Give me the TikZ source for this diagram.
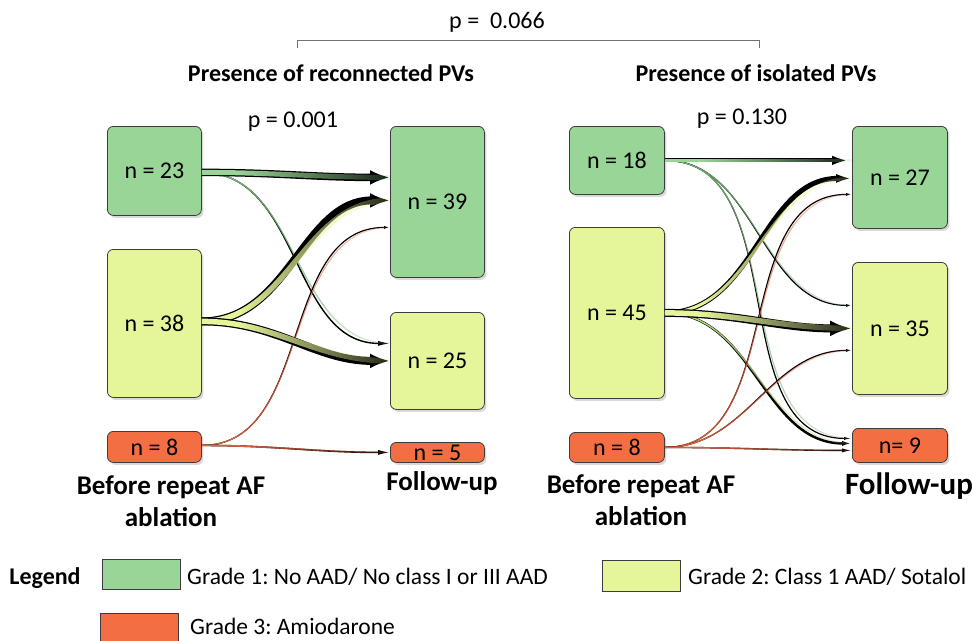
\documentclass[tikz,border=0pt]{standalone}
\usepackage{fontspec}
\setmainfont{Carlito}
\frenchspacing
\usetikzlibrary{arrows.meta,shadows,fadings}
\definecolor{gOne}{RGB}{152,213,150}
\definecolor{gTwo}{RGB}{229,245,153}
\definecolor{gThree}{RGB}{243,110,67}
\definecolor{boxline}{RGB}{60,60,60}
\definecolor{lineGreen}{RGB}{120,178,120}
\definecolor{lineYellow}{RGB}{222,240,130}
\definecolor{lineRed}{RGB}{222,95,60}
\pgfdeclarehorizontalshading{flowshade}{100bp}{color(0bp)=(white); color(35bp)=(white); color(82bp)=(black); color(100bp)=(black)}
\pgfdeclarefading{flowfade}{\pgfuseshading{flowshade}}
\newcommand{\nfont}{\fontsize{24}{28}\selectfont}
\newcommand{\legfont}{\fontsize{23.5}{28}\selectfont}
\newcommand{\bfontbig}{\fontsize{27}{31}\selectfont\bfseries}
\newcommand{\myflow}[7]{%
  \draw[black, line width=#4, -{Latex[length=#6,width=#7]}] (#1) to[out=0,in=180] (#2);
  \draw[#3, line width=#5, path fading=flowfade] (#1) to[out=0,in=180] (#2);
}
\tikzset{
  box/.style={rectangle, rounded corners=6pt, draw=boxline, line width=0.8pt,
    drop shadow={shadow xshift=2pt, shadow yshift=-2.5pt, opacity=0.3},
    inner sep=0pt, anchor=north west, font=\nfont},
  gbox/.style={box, fill=gOne},
  ybox/.style={box, fill=gTwo},
  obox/.style={box, fill=gThree},
  txt/.style={font=\nfont, inner sep=0pt},
  legtxt/.style={font=\legfont, inner sep=0pt, anchor=west},
  ttl/.style={font=\nfont\bfseries, inner sep=0pt},
  lab/.style={font=\bfontbig, inner sep=0pt, align=center},
  legbox/.style={rectangle, draw=boxline, line width=0.8pt, anchor=north west, inner sep=0pt},
}
\begin{document}
\begin{tikzpicture}[x=1pt,y=-1pt]
\useasboundingbox (0,0) rectangle (973,640);
% left panel nodes
\node[gbox, minimum width=94pt, minimum height=89pt] (a1) at (107,126) {n = 23};
\node[ybox, minimum width=94pt, minimum height=148pt] (a2) at (107,249) {n = 38};
\node[obox, minimum width=94pt, minimum height=31pt] (a3) at (107,431) {n = 8};
\node[gbox, minimum width=94pt, minimum height=151pt] (b1) at (390,126) {n = 39};
\node[ybox, minimum width=94pt, minimum height=97pt] (b2) at (390,312) {n = 25};
\node[obox, minimum width=94pt, minimum height=20pt] (b3) at (390,442) {n = 5};
% right panel nodes
\node[gbox, minimum width=95pt, minimum height=68pt] (c1) at (569,126) {n = 18};
\node[ybox, minimum width=95pt, minimum height=171pt] (c2) at (569,227) {n = 45};
\node[obox, minimum width=95pt, minimum height=30pt] (c3) at (569,432) {n = 8};
\node[gbox, minimum width=95pt, minimum height=102pt] (d1) at (852,126) {n = 27};
\node[ybox, minimum width=95pt, minimum height=132pt] (d2) at (852,262) {n = 35};
\node[obox, minimum width=95pt, minimum height=34pt] (d3) at (852,428) {n= 9};
% left flows
\myflow{[yshift=-1.5pt]a1.east}{[yshift=17.5pt]b2.west}{lineGreen}{1.4pt}{1.4pt}{12pt}{5pt}
\myflow{[yshift=1.5pt]a3.east}{[yshift=-25.5pt]b1.west}{lineRed}{1.2pt}{1.2pt}{6pt}{3pt}
\myflow{[yshift=1.5pt]a3.east}{b3.west}{lineRed}{1.6pt}{1.6pt}{12pt}{5pt}
\myflow{[yshift=-1.5pt]a1.east}{[yshift=24.5pt]b1.west}{gOne}{7.5pt}{5pt}{20pt}{15pt}
\myflow{[yshift=2pt]a2.east}{[yshift=1.5pt]b1.west}{gTwo}{8pt}{5.5pt}{20pt}{15pt}
\myflow{[yshift=2pt]a2.east}{b2.west}{gTwo}{8pt}{5.5pt}{20pt}{15pt}
% right flows
\myflow{c1.east}{[yshift=23pt]d2.west}{lineGreen}{1.2pt}{1.2pt}{6pt}{3pt}
\myflow{c1.east}{[yshift=7pt]d3.west}{lineGreen}{1.2pt}{1.2pt}{8pt}{3pt}
\myflow{c2.east}{[yshift=2pt]d3.west}{lineYellow!60!lineGreen}{2.5pt}{1.5pt}{10pt}{5pt}
\myflow{c3.east}{[yshift=-17pt]d1.west}{lineRed}{1.2pt}{1.2pt}{6pt}{3pt}
\myflow{c3.east}{[yshift=-22pt]d2.west}{lineRed}{1.2pt}{1.2pt}{6pt}{3pt}
\myflow{c3.east}{[yshift=-5pt]d3.west}{lineRed}{1.4pt}{1.4pt}{10pt}{4pt}
\myflow{c1.east}{[yshift=17pt]d1.west}{gOne}{4pt}{2.5pt}{20pt}{9pt}
\myflow{c2.east}{[yshift=-1pt]d1.west}{gTwo}{5pt}{3pt}{16pt}{9pt}
\myflow{c2.east}{d2.west}{gTwo}{8pt}{5.5pt}{22pt}{16pt}
% texts
\node[txt] (p0) at (497,22) {p =\ \ 0.066};
\coordinate (bkL) at (297,48);
\coordinate (bkR) at (759,48);
\draw[black!55, line width=1pt] (bkL) -- ++(0,-8) -| (bkR);
\node[ttl] (t1) at (331,73) {Presence of reconnected PVs};
\node[ttl] (t2) at (756,73) {Presence of isolated PVs};
\node[txt] (p1) at (293,122) {p = 0.001};
\node[txt] (p2) at (742,119) {p = 0.130};
\node[lab] (l1) at (171,501) {Before repeat AF\\[1pt]ablation};
\node[lab] (l2) at (442,483) {Follow-up};
\node[lab] (l3) at (641,500) {Before repeat AF\\[1pt]ablation};
\node[lab, font=\fontsize{31}{35}\selectfont\bfseries] (l4) at (909,486) {Follow-up};
% legend
\node[ttl] (lg) at (45,578) {Legend};
\node[legbox, fill=gOne, minimum width=78pt, minimum height=30pt] (k1) at (102,559) {};
\node[legtxt] (k1t) at (187,577) {Grade 1: No AAD/ No class I or III AAD};
\node[legbox, fill=gTwo, minimum width=78pt, minimum height=31pt] (k2) at (602,560) {};
\node[legtxt] (k2t) at (688,577) {Grade 2: Class 1 AAD/ Sotalol};
\node[legbox, fill=gThree, minimum width=78pt, minimum height=32pt] (k3) at (100,613) {};
\node[legtxt] (k3t) at (190,626) {Grade 3: Amiodarone};
\end{tikzpicture}
\end{document}
